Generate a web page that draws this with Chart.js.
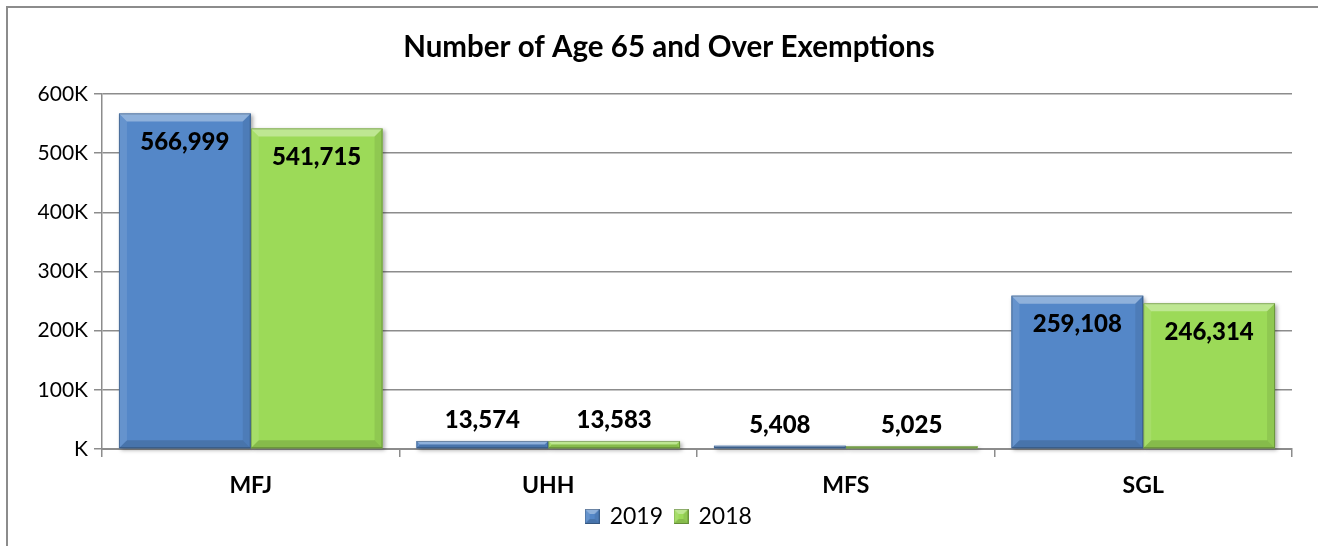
<!DOCTYPE html>
<html>
<head>
<meta charset="utf-8">
<script src="https://cdn.jsdelivr.net/npm/chart.js@4.4.1/dist/chart.umd.min.js"></script>
<style>
    html, body { margin: 0; padding: 0; background: #fff; overflow: hidden; }
    #frame { position: absolute; left: 6px; top: 6px; width: 1330px; height: 560px; border: 2px solid #8c8c8c; }
    #wrap { position: absolute; left: 0; top: 0; width: 1318px; height: 546px; }
</style>
</head>
<body>
<div id="frame"></div>
<div id="wrap"><canvas id="chart"></canvas></div>
<script>
// data
const categories = ['MFJ', 'UHH', 'MFS', 'SGL'];
const values2019 = [566999, 13574, 5408, 259108];
const values2018 = [541715, 13583, 5025, 246314];
const tickLabels = ['K', '100K', '200K', '300K', '400K', '500K', '600K'];

const FONT = 'Lato, "Open Sans", sans-serif';
const colors = {
    '2019': { fill: '#5487c8' },
    '2018': { fill: '#9cda58' }
};

// ========================
// bevel helpers
// ========================
function drawBevel(ctx, l, t, r, b, size) {
    const s = Math.max(0, Math.min(size, (b - t) / 2, (r - l) / 2));
    const poly = (pts, style) => {
        ctx.beginPath();
        ctx.moveTo(pts[0][0], pts[0][1]);
        for (let i = 1; i < pts.length; i++) ctx.lineTo(pts[i][0], pts[i][1]);
        ctx.closePath();
        ctx.fillStyle = style;
        ctx.fill();
    };
    poly([[l, t], [r, t], [r - s, t + s], [l + s, t + s]], 'rgba(255,255,255,0.35)');
    poly([[l, t], [l + s, t + s], [l + s, b - s], [l, b]], 'rgba(255,255,255,0.10)');
    poly([[r, t], [r, b], [r - s, b - s], [r - s, t + s]], 'rgba(0,0,0,0.08)');
    poly([[l, b], [r, b], [r - s, b - s], [l + s, b - s]], 'rgba(0,0,0,0.14)');
    ctx.strokeStyle = 'rgba(0,0,0,0.25)';
    ctx.lineWidth = 1;
    ctx.strokeRect(l + 0.5, t + 0.5, r - l - 1, b - t - 1);
}

function legendIcon(fill) {
    const c = document.createElement('canvas');
    c.width = 15; c.height = 15;
    const g = c.getContext('2d');
    g.fillStyle = fill;
    g.fillRect(0, 0, 15, 15);
    drawBevel(g, 0, 0, 15, 15, 5);
    return c;
}

const barEffects = {
    id: 'barEffects',
    beforeDatasetsDraw(chart) {
        const { ctx } = chart;
        chart.data.datasets.forEach((ds, i) => {
            const meta = chart.getDatasetMeta(i);
            meta.data.forEach(bar => {
                const l = bar.x - bar.width / 2, r = bar.x + bar.width / 2;
                ctx.save();
                ctx.shadowColor = 'rgba(0,0,0,0.35)';
                ctx.shadowBlur = 4;
                ctx.shadowOffsetX = 2;
                ctx.shadowOffsetY = 2;
                ctx.fillStyle = ds.backgroundColor;
                ctx.fillRect(l, bar.y, r - l, bar.base - bar.y);
                ctx.restore();
            });
        });
    },
    afterDatasetsDraw(chart) {
        const { ctx } = chart;
        ctx.save();
        chart.data.datasets.forEach((ds, i) => {
            const meta = chart.getDatasetMeta(i);
            meta.data.forEach(bar => {
                drawBevel(ctx, bar.x - bar.width / 2, bar.y, bar.x + bar.width / 2, bar.base, 8);
            });
        });
        // value labels
        ctx.font = '900 24px ' + FONT;
        ctx.fillStyle = '#000';
        ctx.textAlign = 'center';
        ctx.textBaseline = 'middle';
        chart.data.datasets.forEach((ds, i) => {
            const meta = chart.getDatasetMeta(i);
            meta.data.forEach((bar, idx) => {
                const v = ds.data[idx];
                const txt = v.toLocaleString('en-US');
                const h = bar.base - bar.y;
                const y = h > 60 ? bar.y + 29 : bar.y - 21;
                ctx.fillText(txt, bar.x, y);
            });
        });
        ctx.restore();
    }
};

new Chart(document.getElementById('chart'), {
    type: 'bar',
    data: {
        labels: categories,
        datasets: [
            { label: '2019', data: values2019, backgroundColor: colors['2019'].fill, pointStyle: legendIcon(colors['2019'].fill) },
            { label: '2018', data: values2018, backgroundColor: colors['2018'].fill, pointStyle: legendIcon(colors['2018'].fill) }
        ]
    },
    options: {
        responsive: true,
        maintainAspectRatio: false,
        animation: false,
        layout: { padding: { left: 20, right: 0, top: 0, bottom: 8 } },
        datasets: {
            bar: { categoryPercentage: 0.886, barPercentage: 1.0, borderWidth: 0 }
        },
        plugins: {
            title: {
                display: true,
                text: 'Number of Age 65 and Over Exemptions',
                color: '#000',
                font: { family: FONT, size: 29.5, weight: 'bold' },
                padding: { top: 30, bottom: 28.5 }
            },
            legend: {
                display: true,
                position: 'bottom',
                labels: {
                    usePointStyle: true,
                    boxWidth: 12,
                    boxHeight: 15,
                    padding: 12,
                    color: '#000',
                    font: { family: FONT, size: 23 }
                }
            },
            tooltip: { enabled: false }
        },
        scales: {
            x: {
                offset: true,
                grid: { display: true, offset: true, drawOnChartArea: false, drawTicks: true, tickLength: 8, color: '#8c8c8c', lineWidth: 1.5 },
                border: { display: true, color: '#8c8c8c', width: 2 },
                ticks: { color: '#000', padding: 15, font: { family: FONT, size: 23, weight: 'bold' } },
                afterFit(scale) { scale.height = 44; }
            },
            y: {
                min: 0,
                max: 600000,
                ticks: {
                    stepSize: 100000,
                    color: '#000',
                    padding: 6,
                    font: { family: FONT, size: 21 },
                    callback: (value, index) => tickLabels[index]
                },
                grid: { color: '#8c8c8c', lineWidth: 1.5, tickLength: 8 },
                border: { display: true, color: '#8c8c8c', width: 1.5 },
                afterFit(scale) { scale.width = 82; }
            },
            yRight: {
                position: 'right',
                display: true,
                grid: { display: false },
                border: { display: false },
                ticks: { display: false },
                afterFit(scale) { scale.width = 26; }
            }
        }
    },
    plugins: [barEffects]
});
</script>
</body>
</html>
